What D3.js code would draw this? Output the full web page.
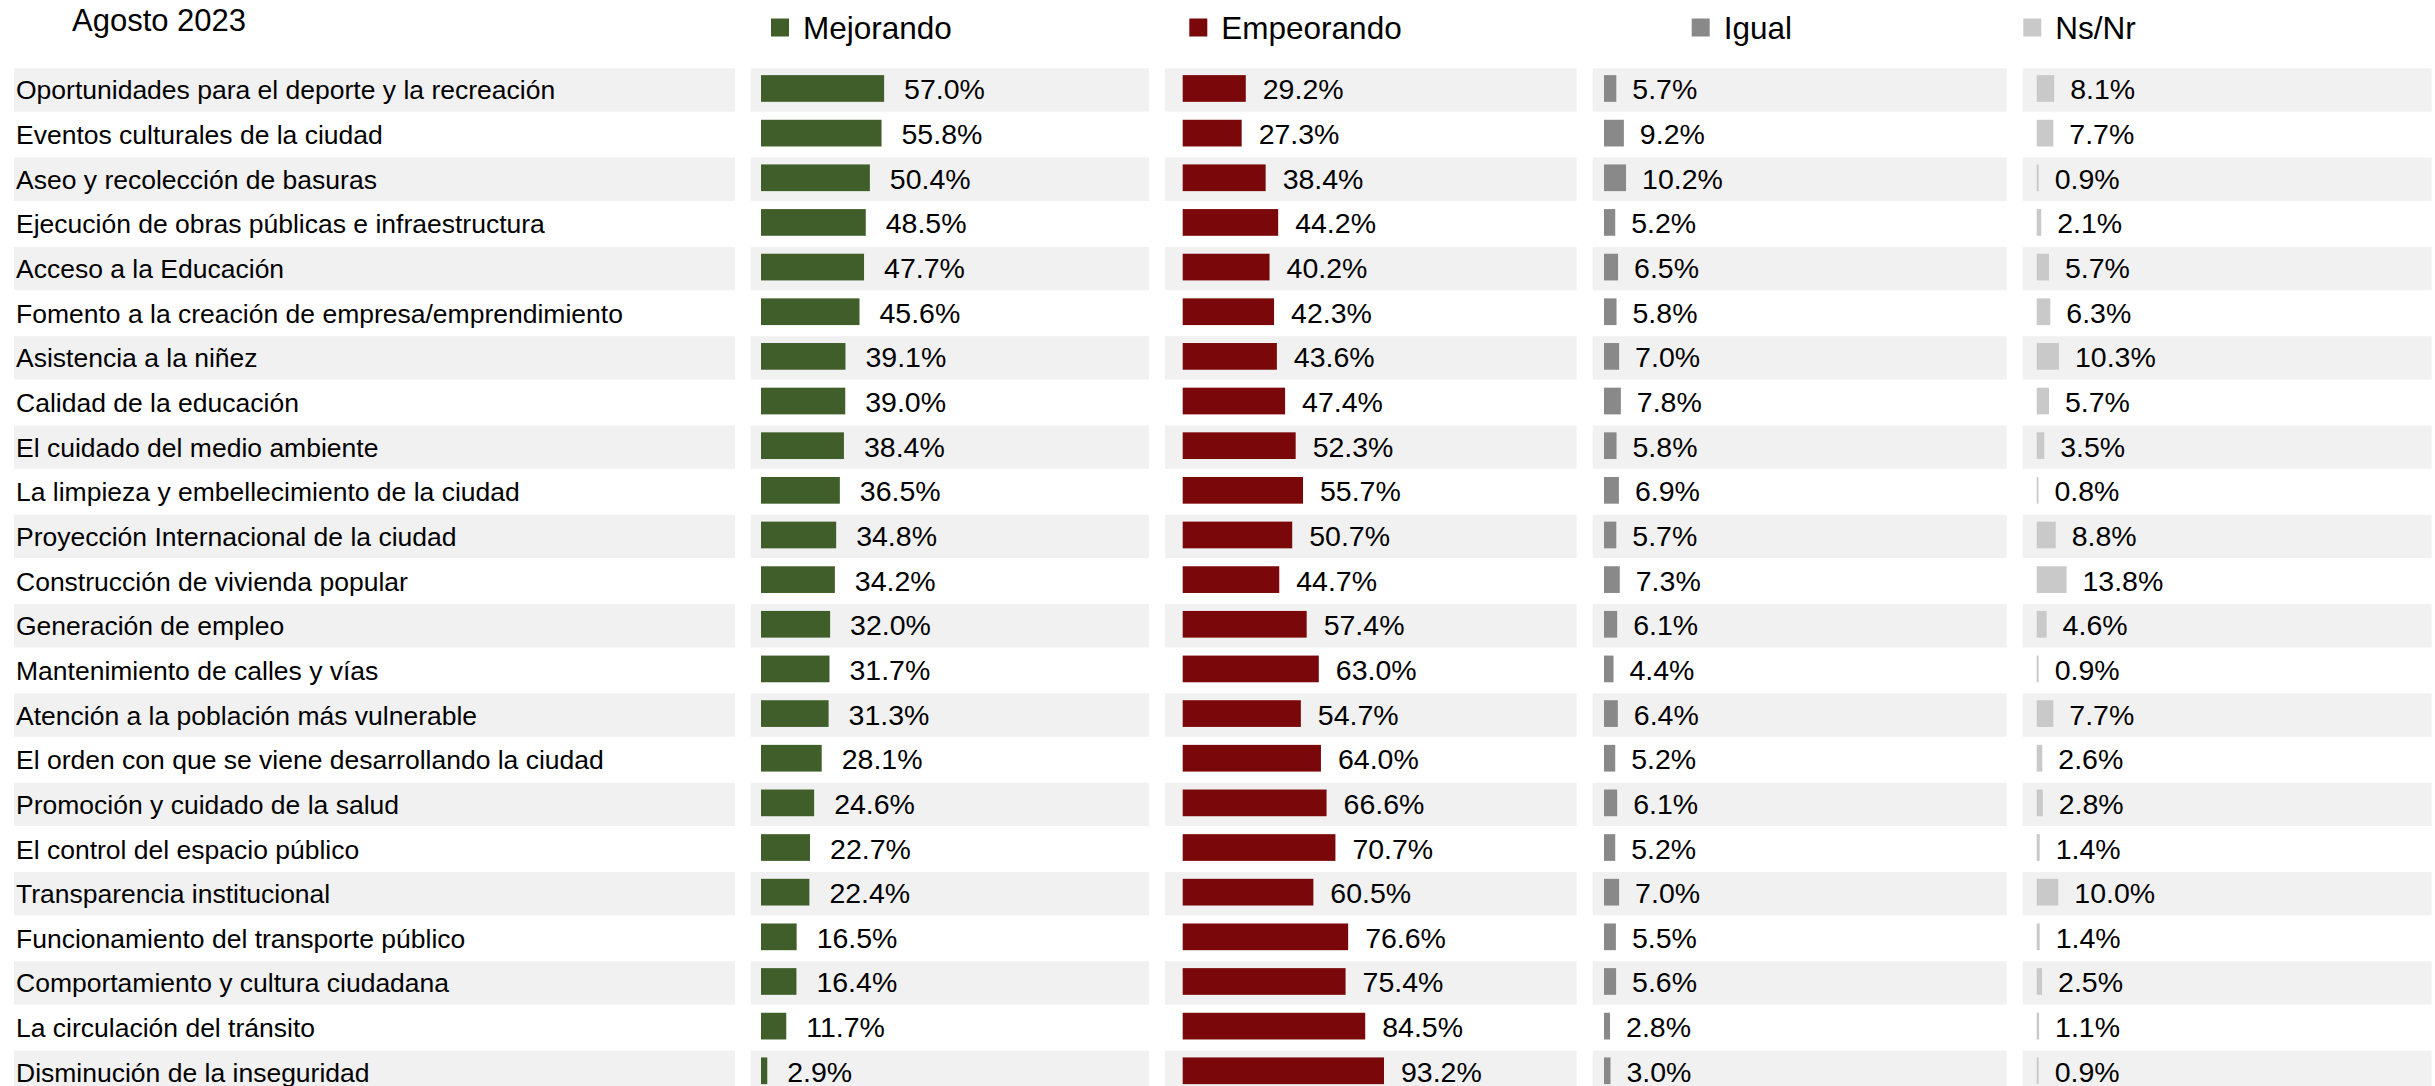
<!DOCTYPE html>
<html>
<head>
<meta charset="utf-8">
<script src="https://cdn.jsdelivr.net/npm/d3@7"></script>
<style>
  html, body { margin: 0; padding: 0; background: #fff; }
  svg { display: block; font-family: "Liberation Sans", Arial, sans-serif; }
</style>
</head>
<body>
<script>
// data
var title = "Agosto 2023";
var seriesNames = ["Mejorando", "Empeorando", "Igual", "Ns/Nr"];
var categories = [
  "Oportunidades para el deporte y la recreación",
  "Eventos culturales de la ciudad",
  "Aseo y recolección de basuras",
  "Ejecución de obras públicas e infraestructura",
  "Acceso a la Educación",
  "Fomento a la creación de empresa/emprendimiento",
  "Asistencia a la niñez",
  "Calidad de la educación",
  "El cuidado del medio ambiente",
  "La limpieza y embellecimiento de la ciudad",
  "Proyección Internacional de la ciudad",
  "Construcción de vivienda popular",
  "Generación de empleo",
  "Mantenimiento de calles y vías",
  "Atención a la población más vulnerable",
  "El orden con que se viene desarrollando la ciudad",
  "Promoción y cuidado de la salud",
  "El control del espacio público",
  "Transparencia institucional",
  "Funcionamiento del transporte público",
  "Comportamiento y cultura ciudadana",
  "La circulación del tránsito",
  "Disminución de la inseguridad"
];
var mejorando  = [57.0, 55.8, 50.4, 48.5, 47.7, 45.6, 39.1, 39.0, 38.4, 36.5, 34.8, 34.2, 32.0, 31.7, 31.3, 28.1, 24.6, 22.7, 22.4, 16.5, 16.4, 11.7, 2.9];
var empeorando = [29.2, 27.3, 38.4, 44.2, 40.2, 42.3, 43.6, 47.4, 52.3, 55.7, 50.7, 44.7, 57.4, 63.0, 54.7, 64.0, 66.6, 70.7, 60.5, 76.6, 75.4, 84.5, 93.2];
var igual      = [5.7, 9.2, 10.2, 5.2, 6.5, 5.8, 7.0, 7.8, 5.8, 6.9, 5.7, 7.3, 6.1, 4.4, 6.4, 5.2, 6.1, 5.2, 7.0, 5.5, 5.6, 2.8, 3.0];
var nsnr       = [8.1, 7.7, 0.9, 2.1, 5.7, 6.3, 10.3, 5.7, 3.5, 0.8, 8.8, 13.8, 4.6, 0.9, 7.7, 2.6, 2.8, 1.4, 10.0, 1.4, 2.5, 1.1, 0.9];

var seriesValues = [mejorando, empeorando, igual, nsnr];
var seriesColors = ["#3f5e29", "#7a0709", "#898989", "#c9c9c9"];

var width = 2435, height = 1086;

// panel layout (label column + one panel per series)
var labelPanel = { x: 14, w: 721 };
var panels = [
  { x: 750.7,  w: 398.3, barX: 761,    legX: 771,    gap: 20 },
  { x: 1165,   w: 411.7, barX: 1182.7, legX: 1189.3, gap: 17 },
  { x: 1592.7, w: 414,   barX: 1604,   legX: 1691.7, gap: 16 },
  { x: 2022.7, w: 409,   barX: 2036.7, legX: 2023.3, gap: 16 }
];

var svg = d3.select("body").append("svg")
  .attr("width", width)
  .attr("height", height);

var y = d3.scaleBand()
  .domain(categories)
  .range([68.3, 68.3 + categories.length * 44.65])
  .padding(0);

var x = d3.scaleLinear()
  .domain([0, 100])
  .range([0, 216]);

var bandH = y.step() - 1.3;
var barH = 26.7;

// title
svg.append("text")
  .attr("x", 72)
  .attr("y", 31)
  .attr("font-size", 31)
  .attr("fill", "#000")
  .text(title);

// legend
var legend = svg.append("g").attr("class", "legend");
seriesNames.forEach(function(name, i) {
  var p = panels[i];
  legend.append("rect")
    .attr("x", p.legX)
    .attr("y", 18.5)
    .attr("width", 18)
    .attr("height", 18)
    .attr("fill", seriesColors[i]);
  legend.append("text")
    .attr("x", p.legX + 32)
    .attr("y", 39)
    .attr("font-size", 31.5)
    .attr("fill", "#000")
    .text(name);
});

// zebra backgrounds (every other row)
var shaded = categories.filter(function(d, i) { return i % 2 === 0; });
var bgCols = [labelPanel].concat(panels);
bgCols.forEach(function(p) {
  svg.append("g").selectAll("rect")
    .data(shaded)
    .join("rect")
    .attr("x", p.x)
    .attr("y", function(d) { return y(d); })
    .attr("width", p.w)
    .attr("height", bandH)
    .attr("fill", "#f1f1f1");
});

// category labels
svg.append("g").selectAll("text")
  .data(categories)
  .join("text")
  .attr("x", 16)
  .attr("y", function(d) { return y(d) + bandH / 2 + 9.5; })
  .attr("font-size", 26.5)
  .attr("fill", "#000")
  .text(function(d) { return d; });

// bars + value labels per series
seriesValues.forEach(function(vals, s) {
  var p = panels[s];
  var rows = categories.map(function(c, i) { return { cat: c, v: vals[i] }; });
  var g = svg.append("g").attr("transform", "translate(" + p.barX + ",0)");

  g.selectAll("rect")
    .data(rows)
    .join("rect")
    .attr("x", 0)
    .attr("y", function(d) { return y(d.cat) + bandH / 2 - 1.5 - barH / 2; })
    .attr("width", function(d) { return x(d.v); })
    .attr("height", barH)
    .attr("fill", seriesColors[s]);

  g.selectAll("text")
    .data(rows)
    .join("text")
    .attr("x", function(d) { return x(d.v) + p.gap; })
    .attr("y", function(d) { return y(d.cat) + bandH / 2 + 9.5; })
    .attr("font-size", 28.5)
    .attr("fill", "#000")
    .text(function(d) { return d.v.toFixed(1) + "%"; });
});
</script>
</body>
</html>
